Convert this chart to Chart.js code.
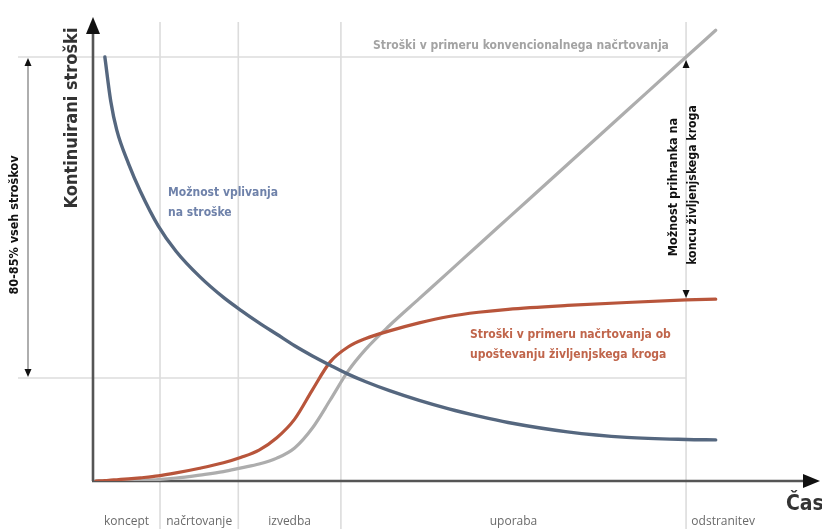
<!DOCTYPE html>
<html>
<head>
<meta charset="utf-8">
<script src="https://cdn.jsdelivr.net/npm/chart.js@4/dist/chart.umd.min.js"></script>
<style>
  html, body { margin: 0; padding: 0; background: #ffffff; }
  #wrap { width: 822px; height: 529px; }
</style>
</head>
<body>
<div id="wrap"><canvas id="chart" width="822" height="529"></canvas></div>
<script>
// Life-cycle phases along the time axis and where each one starts/ends
const phaseNames = ['koncept', 'načrtovanje', 'izvedba', 'uporaba', 'odstranitev'];
const phaseBounds = [0, 11.3, 24.5, 41.8, 100, 112.5];

// Cumulative cost levels (100 = total cost of a conventional design)
const totalCostLevel = 100;
const earlyCostLevel = 24.3;

// Time samples shared by the three curves
const time = [0.5, 2, 3, 4, 6, 8, 11, 14, 18, 22, 25, 28, 31, 34, 37, 40, 43, 46, 50, 55, 60, 65, 70, 80, 90, 100, 105];

// Ability to influence costs
const influence = [null, 100, 89.5, 82.8, 74.8, 68.3, 60.2, 54.2, 48.2, 43.3, 40.2, 37.3, 34.6, 31.9, 29.5, 27.3, 25.2, 23.4, 21.3, 19.0, 17.0, 15.3, 13.8, 11.6, 10.3, 9.8, 9.7];

// Cumulative costs with life-cycle oriented design
const lifecycleCost = [0, 0.1, 0.2, 0.3, 0.5, 0.75, 1.2, 1.9, 3.0, 4.3, 5.6, 7.3, 10.2, 14.6, 21.5, 28.1, 31.6, 33.6, 35.4, 37.3, 38.8, 39.8, 40.5, 41.4, 42.1, 42.7, 42.9];

// Cumulative costs with conventional design
const conventionalCost = [0, 0, 0, 0, 0.05, 0.15, 0.35, 0.7, 1.4, 2.2, 3.1, 4.0, 5.4, 7.8, 12.5, 19.1, 25.9, 31.1, 36.67, 43.0, 49.33, 55.67, 62.0, 74.66, 87.33, 100, 106.3];

const FONT_BOLD = "'DejaVu Sans Condensed', 'DejaVu Sans', sans-serif";
const FONT_REG = "'Open Sans', 'DejaVu Sans', sans-serif";

const points = arr => time.map((t, i) => ({ x: t, y: arr[i] }));

function line(ctx, x1, y1, x2, y2) {
  ctx.beginPath();
  ctx.moveTo(x1, y1);
  ctx.lineTo(x2, y2);
  ctx.stroke();
}

// Filled triangle pointing in direction (dx, dy) with its tip at (x, y)
function arrowHead(ctx, x, y, dx, dy, len, half) {
  const px = -dy, py = dx;
  ctx.beginPath();
  ctx.moveTo(x, y);
  ctx.lineTo(x - dx * len + px * half, y - dy * len + py * half);
  ctx.lineTo(x - dx * len - px * half, y - dy * len - py * half);
  ctx.closePath();
  ctx.fill();
}

function vText(ctx, text, cx, cy, font, color) {
  ctx.save();
  ctx.translate(cx, cy);
  ctx.rotate(-Math.PI / 2);
  ctx.font = font;
  ctx.fillStyle = color;
  ctx.textAlign = 'center';
  ctx.textBaseline = 'middle';
  ctx.fillText(text, 0, 0);
  ctx.restore();
}

function hText(ctx, text, x, y, font, color) {
  ctx.font = font;
  ctx.fillStyle = color;
  ctx.textAlign = 'left';
  ctx.textBaseline = 'middle';
  ctx.fillText(text, x, y);
}

const diagram = {
  id: 'diagram',
  beforeDatasetsDraw(chart) {
    const { ctx, chartArea, scales: { x, y } } = chart;
    const x0 = x.getPixelForValue(0);
    const y0 = y.getPixelForValue(0);
    const yTop = y.getPixelForValue(totalCostLevel);
    const yLow = y.getPixelForValue(earlyCostLevel);
    const xEnd = x.getPixelForValue(phaseBounds[4]);

    ctx.save();
    // phase separators
    ctx.strokeStyle = '#dcdcdc';
    ctx.lineWidth = 1.6;
    for (const b of phaseBounds.slice(1, 5)) {
      const px = x.getPixelForValue(b);
      line(ctx, px, chartArea.top + 4, px, chart.height);
    }
    // cost level guides
    line(ctx, 18, yTop, xEnd, yTop);
    line(ctx, 18, yLow, xEnd, yLow);

    // 80-85 % span arrow on the left
    ctx.strokeStyle = '#9a9a9a';
    ctx.lineWidth = 1.6;
    line(ctx, 28, yTop + 4, 28, yLow - 4);
    ctx.fillStyle = '#111';
    arrowHead(ctx, 28, yTop + 1, 0, -1, 8, 3.5);
    arrowHead(ctx, 28, yLow - 1, 0, 1, 8, 3.5);

    // axes
    ctx.strokeStyle = '#555555';
    ctx.fillStyle = '#111111';
    ctx.lineWidth = 2.6;
    line(ctx, x0, y0, x0, chartArea.top + 10);
    line(ctx, x0 - 1, y0, chartArea.right, y0);
    arrowHead(ctx, x0, chartArea.top - 1, 0, -1, 17, 7);
    arrowHead(ctx, chartArea.right + 10, y0, 1, 0, 17, 7);
    ctx.restore();
  },
  afterDatasetsDraw(chart) {
    const { ctx, scales: { x, y } } = chart;
    const xEnd = x.getPixelForValue(phaseBounds[4]);
    const yConv = y.getPixelForValue(conventionalCost[time.indexOf(100)]);
    const yLife = y.getPixelForValue(lifecycleCost[time.indexOf(100)]);

    ctx.save();
    // savings arrow heads at the end of use
    ctx.fillStyle = '#111';
    arrowHead(ctx, xEnd, yConv + 3, 0, -1, 8, 3.5);
    arrowHead(ctx, xEnd, yLife - 2, 0, 1, 8, 3.5);

    vText(ctx, 'Kontinuirani stroški', 72, 118, `bold 18px ${FONT_BOLD}`, '#333333');
    vText(ctx, '80-85% vseh stroškov', 15, 225, `bold 12.5px ${FONT_BOLD}`, '#111111');
    vText(ctx, 'Možnost prihranka na', 674, 187, `bold 12.5px ${FONT_BOLD}`, '#111111');
    vText(ctx, 'koncu življenjskega kroga', 693, 185, `bold 12.2px ${FONT_BOLD}`, '#111111');

    hText(ctx, 'Stroški v primeru konvencionalnega načrtovanja', 373, 46, `bold 12px ${FONT_BOLD}`, '#a3a3a3');
    hText(ctx, 'Možnost vplivanja', 168, 193, `bold 12px ${FONT_BOLD}`, '#6f82aa');
    hText(ctx, 'na stroške', 168, 213, `bold 12px ${FONT_BOLD}`, '#6f82aa');
    hText(ctx, 'Stroški v primeru načrtovanja ob', 470, 335, `bold 12px ${FONT_BOLD}`, '#c0654b');
    hText(ctx, 'upoštevanju življenjskega kroga', 470, 355, `bold 12px ${FONT_BOLD}`, '#c0654b');
    hText(ctx, 'Čas', 786, 505, `bold 21px ${FONT_BOLD}`, '#333333');
    ctx.restore();
  }
};

new Chart(document.getElementById('chart'), {
  type: 'line',
  data: {
    datasets: [
      {
        label: 'Možnost vplivanja na stroške',
        data: points(influence),
        borderColor: '#55677f',
        borderWidth: 3.4,
        order: 0
      },
      {
        label: 'Stroški v primeru načrtovanja ob upoštevanju življenjskega kroga',
        data: points(lifecycleCost),
        borderColor: '#b8553b',
        borderWidth: 3.2,
        order: 1
      },
      {
        label: 'Stroški v primeru konvencionalnega načrtovanja',
        data: points(conventionalCost),
        borderColor: '#adadad',
        borderWidth: 3.2,
        order: 2
      }
    ]
  },
  options: {
    responsive: false,
    animation: false,
    devicePixelRatio: 1,
    layout: { padding: { left: 93, right: 12, top: 18, bottom: 0 } },
    elements: {
      point: { radius: 0, hoverRadius: 0 },
      line: { cubicInterpolationMode: 'monotone', fill: false, borderCapStyle: 'round' }
    },
    plugins: { legend: { display: false }, tooltip: { enabled: false } },
    scales: {
      x: {
        type: 'linear',
        min: 0,
        max: 120.9,
        grid: { display: false, drawTicks: false },
        border: { display: false },
        afterBuildTicks: s => {
          s.ticks = phaseNames.map((n, i) => ({ value: (phaseBounds[i] + phaseBounds[i + 1]) / 2 }));
        },
        afterFit: s => { s.height = 48; },
        ticks: {
          autoSkip: false,
          maxRotation: 0,
          padding: 33,
          color: '#6a6a6a',
          font: { family: FONT_REG, size: 12 },
          callback: (v, i) => phaseNames[i]
        }
      },
      y: { type: 'linear', min: 0, max: 109.2, display: false }
    }
  },
  plugins: [diagram]
});
</script>
</body>
</html>
